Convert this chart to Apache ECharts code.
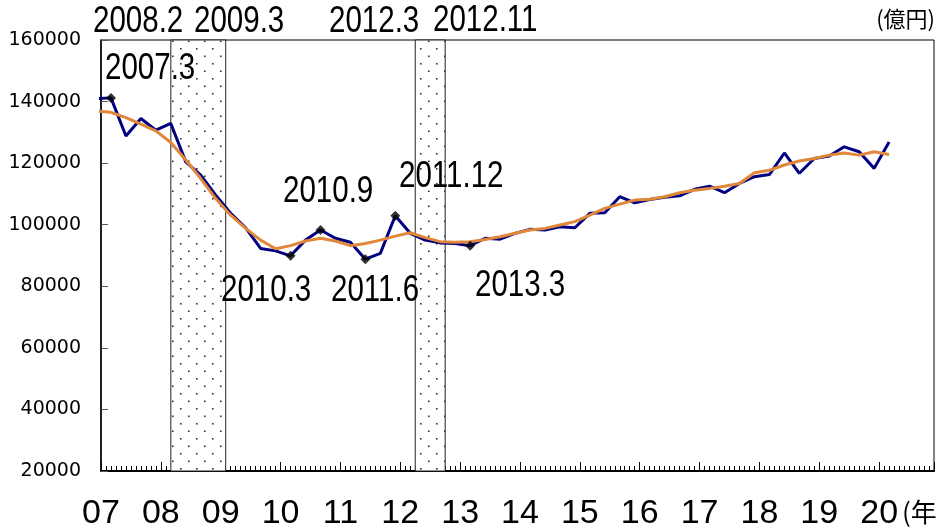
<!DOCTYPE html>
<html>
<head>
<meta charset="utf-8">
<script src="https://cdn.jsdelivr.net/npm/echarts@6/dist/echarts.min.js"></script>
<style>
  html, body { margin: 0; padding: 0; background: #fff; }
  #chart { width: 937px; height: 531px; }
</style>
</head>
<body>
<div id="chart"></div>
<script>
// quarter ends, 2006.12 .. 2020.3
const quarters = [
  '2006.12',
  '2007.3', '2007.6', '2007.9', '2007.12',
  '2008.3', '2008.6', '2008.9', '2008.12',
  '2009.3', '2009.6', '2009.9', '2009.12',
  '2010.3', '2010.6', '2010.9', '2010.12',
  '2011.3', '2011.6', '2011.9', '2011.12',
  '2012.3', '2012.6', '2012.9', '2012.12',
  '2013.3', '2013.6', '2013.9', '2013.12',
  '2014.3', '2014.6', '2014.9', '2014.12',
  '2015.3', '2015.6', '2015.9', '2015.12',
  '2016.3', '2016.6', '2016.9', '2016.12',
  '2017.3', '2017.6', '2017.9', '2017.12',
  '2018.3', '2018.6', '2018.9', '2018.12',
  '2019.3', '2019.6', '2019.9', '2019.12',
  '2020.3'
];

// actual (億円)
const actual = [
  140900,
  141200, 128800, 134500, 130700,
  132900, 120400, 116100, 109600,
  103700, 99000, 92300, 91500,
  89900, 95000, 98300, 95600,
  94300, 88800, 90700, 102900,
  97200, 95000, 94100, 93900,
  93200, 95600, 95300, 97200,
  98500, 98300, 99300, 99000,
  103700, 103900, 109100, 107100,
  108200, 108900, 109400, 111500,
  112500, 110400, 113400, 115600,
  116300, 123300, 116700, 121500,
  122300, 125300, 123700, 118300,
  126900
];

// trend (億円)
const trend = [
  136900,
  136500, 134800, 132700, 130500,
  126700, 121000, 115000, 108500,
  103100, 98800, 95000, 92200,
  93200, 94700, 95600, 94700,
  93200, 93900, 95000, 96300,
  97400, 95800, 94500, 94300,
  94500, 95200, 96100, 97200,
  98300, 98800, 99900, 101000,
  103100, 105300, 106700, 108000,
  108300, 109100, 110400, 111200,
  111800, 112500, 113400, 116900,
  117700, 119400, 120700, 121500,
  122600, 123300, 122600, 123700,
  122800
];

const turningPoints = ['2007.3', '2010.3', '2010.9', '2011.6', '2011.12', '2013.3'];

// shaded periods as drawn, months since 2007.1
const bands = [[14, 25], [63, 69]];

const yearLabels = ['07', '08', '09', '10', '11', '12', '13', '14', '15', '16', '17', '18', '19', '20'];

const notes = [
  { text: '2008.2', x: 93, y: 4 },
  { text: '2009.3', x: 194, y: 4 },
  { text: '2012.3', x: 329, y: 4 },
  { text: '2012.11', x: 433, y: 3 },
  { text: '2007.3', x: 105, y: 51 },
  { text: '2010.9', x: 283, y: 174 },
  { text: '2011.12', x: 399, y: 159 },
  { text: '2010.3', x: 221, y: 273 },
  { text: '2011.6', x: 331, y: 273 },
  { text: '2013.3', x: 475, y: 268 }
];

function toMonth(q) {
  const [y, m] = q.split('.').map(Number);
  return (y - 2007) * 12 + (m - 1);
}

const dots = document.createElement('canvas');
dots.width = 16;
dots.height = 15;
const g = dots.getContext('2d');
g.fillStyle = '#fff';
g.fillRect(0, 0, 16, 15);
g.fillStyle = '#333';
g.fillRect(4, 3, 1.6, 1.6);
g.fillRect(12, 10.5, 1.6, 1.6);

const chart = echarts.init(document.getElementById('chart'));

const noteFont = "36px 'Liberation Sans', sans-serif";

chart.setOption({
  animation: false,
  backgroundColor: '#fff',
  grid: {
    left: 101, right: 2, top: 40, bottom: 60,
    show: true, borderColor: '#000', borderWidth: 1
  },
  xAxis: {
    type: 'value',
    min: 0,
    max: 167,
    interval: 12,
    axisLine: { lineStyle: { color: '#000', width: 2 } },
    axisTick: { inside: true, length: 9, lineStyle: { color: '#000' } },
    minorTick: { show: true, splitNumber: 12, length: 5, lineStyle: { color: '#000' } },
    splitLine: { show: false },
    axisLabel: {
      formatter: v => (v % 12 === 0 ? yearLabels[v / 12] : ''),
      fontFamily: 'Liberation Sans',
      fontSize: 34,
      color: '#000',
      margin: 26
    }
  },
  yAxis: {
    type: 'value',
    min: 20000,
    max: 160000,
    interval: 20000,
    axisLine: { show: true, lineStyle: { color: '#000', width: 1.5 } },
    axisTick: { inside: true, length: 7, lineStyle: { color: '#555' } },
    splitLine: { show: false },
    axisLabel: {
      formatter: v => String(v),
      fontFamily: 'DejaVu Sans', fontSize: 19, color: '#000', margin: 20
    }
  },
  series: [
    {
      name: 'actual',
      type: 'line',
      data: quarters.map((q, i) => [toMonth(q), actual[i]]),
      showSymbol: false,
      lineStyle: { color: '#000080', width: 3 },
      z: 3,
      markArea: {
        silent: true,
        itemStyle: {
          color: { image: dots, repeat: 'repeat' },
          borderColor: '#222',
          borderWidth: 1
        },
        data: bands.map(b => [{ xAxis: b[0] }, { xAxis: b[1] }])
      }
    },
    {
      name: 'trend',
      type: 'line',
      data: quarters.map((q, i) => [toMonth(q), trend[i]]),
      showSymbol: false,
      lineStyle: { color: '#E0873A', width: 3 },
      z: 4
    },
    {
      name: 'turning',
      type: 'scatter',
      data: turningPoints.map(q => [toMonth(q), actual[quarters.indexOf(q)]]),
      symbol: 'diamond',
      symbolSize: 10,
      itemStyle: { color: '#000' },
      z: 5
    }
  ],
  graphic: notes.map(n => ({
    type: 'text',
    x: n.x,
    y: n.y,
    scaleX: 0.82,
    z: 100,
    style: { text: n.text, font: noteFont, fill: '#000', textVerticalAlign: 'top' }
  })).concat([
    {
      type: 'text', right: 2, top: 8, z: 100,
      style: { text: '(億円)', font: "22px 'Noto Sans CJK JP'", fill: '#000' }
    },
    {
      type: 'text', left: 902, top: 499, z: 100,
      style: { text: '(年)', font: "26px 'Noto Sans CJK JP'", fill: '#000' }
    }
  ])
});
</script>
</body>
</html>
